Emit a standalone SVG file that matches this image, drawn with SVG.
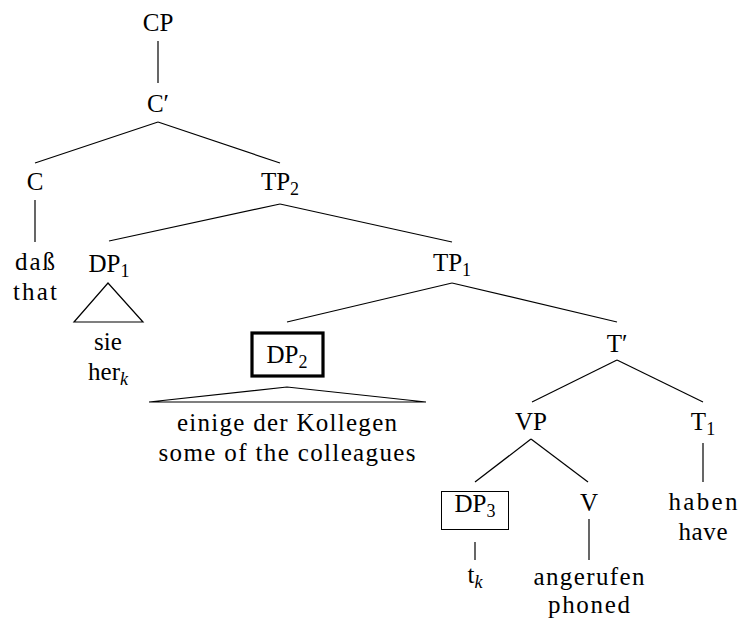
<svg xmlns="http://www.w3.org/2000/svg" width="738" height="624" viewBox="0 0 738 624" font-family="Liberation Serif, DejaVu Serif, serif">
<style>
text{font-size:25px;fill:#000;text-anchor:middle}
.sub{font-size:18px}
.it{font-style:italic}
.e{stroke:#000;stroke-width:1.2;fill:none}
</style>
<rect width="738" height="624" fill="#fff"/>
<g id="connectors" class="e">
<line x1="158" y1="41" x2="158" y2="83"/>
<line x1="158" y1="122" x2="35" y2="163"/>
<line x1="158" y1="122" x2="280" y2="163"/>
<line x1="35" y1="200" x2="35" y2="242"/>
<line x1="280" y1="204" x2="109" y2="241"/>
<line x1="280" y1="204" x2="452" y2="242"/>
<polygon points="108,283 74,322 143,322"/>
<line x1="452" y1="283" x2="287" y2="322"/>
<line x1="452" y1="283" x2="617" y2="322"/>
<polygon points="287,387 149,402 426,402"/>
<line x1="617" y1="360" x2="532" y2="402"/>
<line x1="617" y1="360" x2="703" y2="402"/>
<line x1="531" y1="439" x2="475" y2="482"/>
<line x1="531" y1="439" x2="588" y2="482"/>
<line x1="703" y1="443" x2="703" y2="482"/>
<line x1="475" y1="542" x2="475" y2="560"/>
<line x1="589" y1="519" x2="589" y2="560"/>
</g>
<g id="CP"><text x="158" y="31">CP</text></g>
<g id="Cbar"><text x="158" y="112">C′</text></g>
<g id="C"><text x="35" y="190">C</text></g>
<g id="dass"><text x="35" y="270" textLength="40">daß</text><text x="35" y="300" textLength="44">that</text></g>
<g id="TP2"><text x="280" y="190">TP<tspan class="sub" dy="5">2</tspan></text></g>
<g id="DP1"><text x="109" y="272">DP<tspan class="sub" dy="5">1</tspan></text></g>
<g id="sie"><text x="108" y="350">sie</text><text x="108" y="380">her<tspan class="sub it" dy="5">k</tspan></text></g>
<g id="TP1"><text x="452" y="271">TP<tspan class="sub" dy="5">1</tspan></text></g>
<g id="DP2"><rect x="252" y="333" width="71" height="43" fill="none" stroke="#000" stroke-width="3.2"/><text x="287" y="363">DP<tspan class="sub" dy="5">2</tspan></text></g>
<g id="kollegen"><text x="287" y="431" textLength="220">einige der Kollegen</text><text x="287" y="461" textLength="257">some of the colleagues</text></g>
<g id="Tbar"><text x="617" y="352">T′</text></g>
<g id="VP"><text x="531" y="430">VP</text></g>
<g id="T1"><text x="703" y="430">T<tspan class="sub" dy="5">1</tspan></text></g>
<g id="DP3"><rect x="441.5" y="491.5" width="67" height="38" fill="none" stroke="#000" stroke-width="1"/><text x="475" y="512">DP<tspan class="sub" dy="5">3</tspan></text></g>
<g id="V"><text x="589" y="511">V</text></g>
<g id="haben"><text x="703" y="510" textLength="69">haben</text><text x="703" y="540" textLength="49">have</text></g>
<g id="tk"><text x="475" y="583">t<tspan class="sub it" dy="5">k</tspan></text></g>
<g id="angerufen"><text x="589" y="585" textLength="111">angerufen</text><text x="589" y="613" textLength="82">phoned</text></g>
</svg>
